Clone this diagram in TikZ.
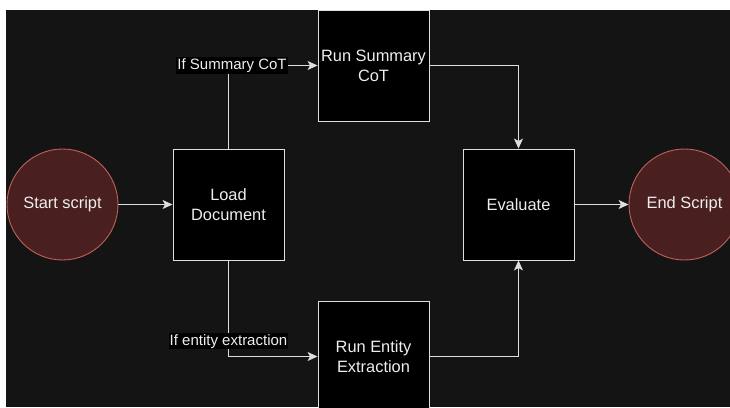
\documentclass[tikz,border=0pt]{standalone}
\usepackage{fontspec}
\setmainfont{Liberation Sans}
\usetikzlibrary{arrows.meta,positioning}
\definecolor{Canvas}{HTML}{141414}
\definecolor{Ink}{HTML}{EEEEEE}
\definecolor{Edge}{HTML}{DEDEDE}
\definecolor{Wine}{HTML}{4A1F1F}
\definecolor{Rose}{HTML}{C0605A}

\begin{document}
\begin{tikzpicture}[x=1pt,y=-1pt,
  box/.style={draw=Edge,fill=black,text=Ink,line width=0.9pt,minimum width=111pt,minimum height=111pt,inner sep=0pt,align=center,font=\fontsize{16.4}{20}\selectfont},
  term/.style={circle,draw=Rose,fill=Wine,text=Ink,line width=0.9pt,minimum size=111pt,inner sep=0pt,font=\fontsize{16.4}{20}\selectfont},
  flow/.style={draw=Edge,line width=1pt,-{Stealth[length=10pt,width=9pt,inset=2.5pt]}},
  lbl/.style={fill=black,text=Ink,inner sep=1.2pt,font=\fontsize{15}{18}\selectfont}]
  \useasboundingbox (0,0) rectangle (730,407);
  \clip (0,0) rectangle (730,407);
  \fill[white] (0,0) rectangle (730,407);
  \fill[Canvas] (6,10) rectangle (730,407);
  % steps
  \node[term] (start) at (62.5,204.5) {Start script};
  \node[box] (load) at (228.5,204.5) {Load\\Document};
  \node[box] (summary) at (373.5,65.5) {Run Summary\\CoT};
  \node[box] (entity) at (373.5,356.5) {Run Entity\\Extraction};
  \node[box] (evaluate) at (518.5,204.5) {Evaluate};
  \node[term] (finish) at (684.5,204.5) {End Script};
  % connectors
  \draw[flow] (start) -- (load);
  \draw[flow] (load.north) |- node[lbl,pos=0.52] (ifsummary) {If Summary CoT} (summary.west);
  \draw[flow] (load.south) |- node[lbl,pos=0.42] (ifentity) {If entity extraction} (entity.west);
  \draw[flow] (summary.east) -| (evaluate.north);
  \draw[flow] (entity.east) -| (evaluate.south);
  \draw[flow] (evaluate) -- (finish);
\end{tikzpicture}
\end{document}
